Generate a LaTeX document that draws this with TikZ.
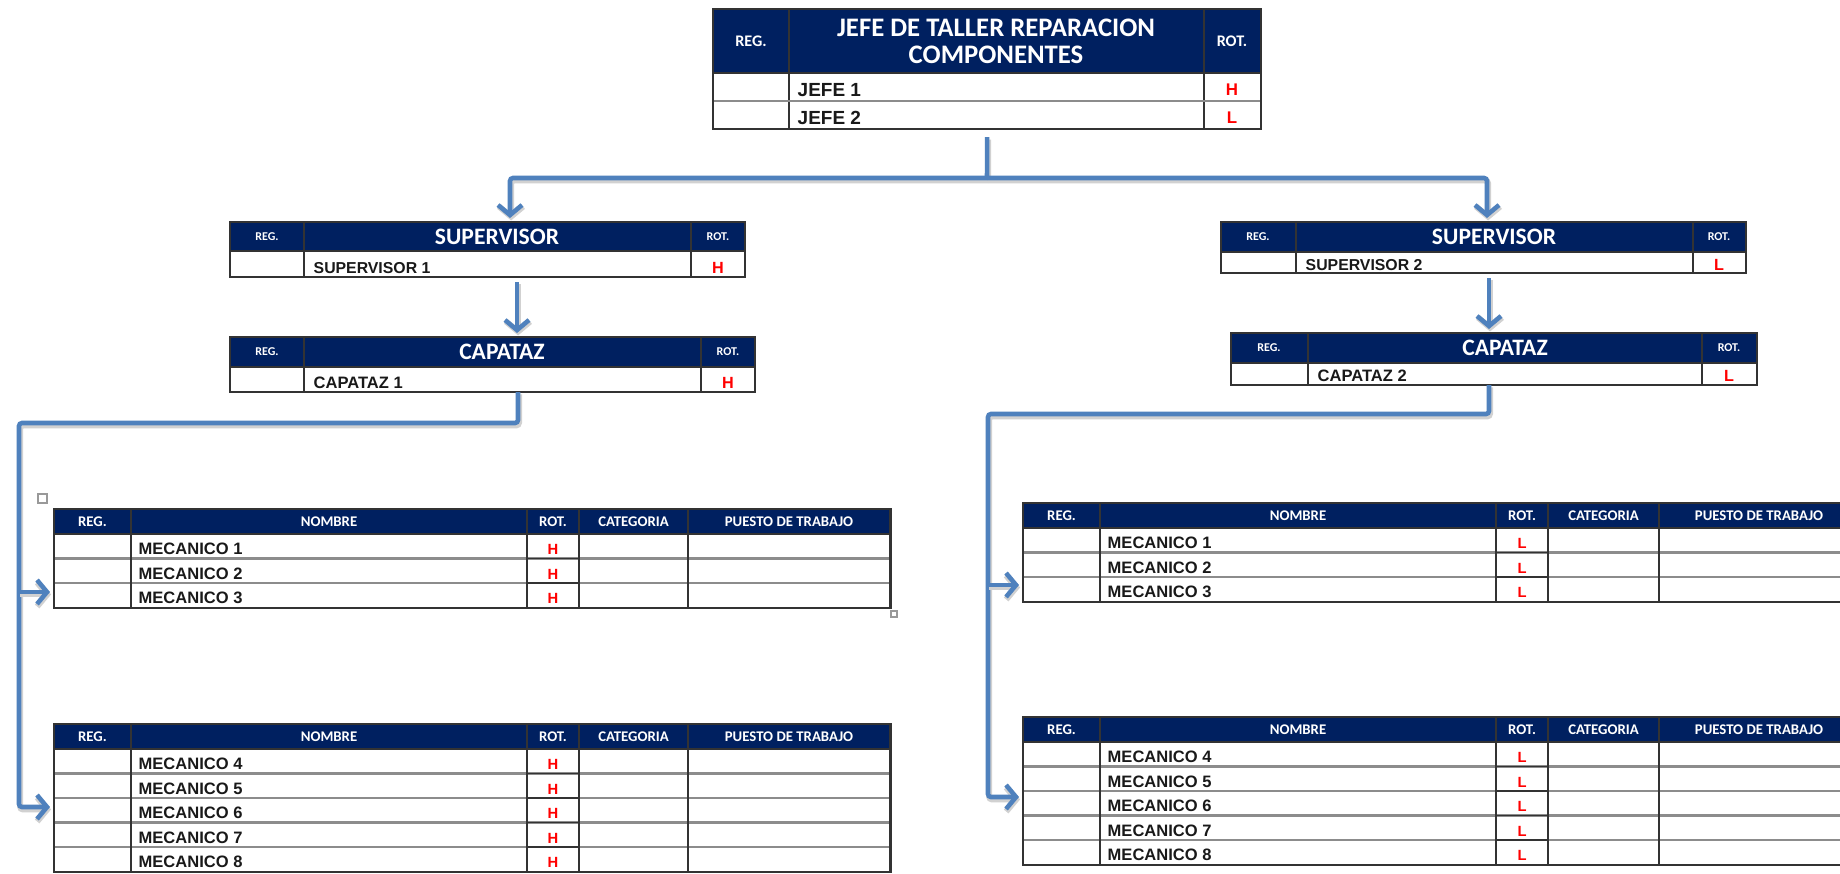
\documentclass[tikz,border=0pt]{standalone}
\usepackage{fontspec}
\setmainfont{Liberation Sans}
\newfontfamily\calfont{Carlito}
\usetikzlibrary{arrows.meta}

\definecolor{navy}{HTML}{002060}
\definecolor{linkblue}{HTML}{4F81BD}

\tikzset{
  tbl/.style={draw=black!80, line width=0.6pt, anchor=north west, inner sep=0, outer sep=0},
  grid/.style={draw=black!80, line width=0.5pt},
  rowline/.style={draw=black!45, line width=0.6pt},
  htext/.style={text=white, inner sep=0, font=\calfont\bfseries\fontsize{#1}{#1}\selectfont},
  htext/.default=4.2,
  dat/.style={anchor=base west, inner sep=0, text=black!90, font=\bfseries\fontsize{#1}{#1}\selectfont},
  dat/.default=4.7,
  rotmark/.style={anchor=base, inner sep=0, text=red, font=\bfseries\fontsize{#1}{#1}\selectfont},
  rotmark/.default=4.2,
  link/.style={draw=linkblue, line width=1.3pt, rounded corners=0.03cm,
    preaction={draw=black!18, line width=1.7pt, transform canvas={xshift=0.3pt, yshift=-0.7pt}}},
  arrowlink/.style={link, -{Straight Barb[length=0.1cm, width=0.24cm]}, shorten >=0.04cm},
}

\begin{document}
\begin{tikzpicture}[x=0.01cm, y=-0.01cm]
  \fill[white] (0,0) rectangle (1840,873);
  \useasboundingbox (0,0) rectangle (1840,873);

  % jefe de taller
  \fill[navy] (713,9) rectangle (1261,73);
  \draw[grid] (789,9) -- (789,129) (1204,9) -- (1204,129) (713,73) -- (1261,73);
  \draw[rowline] (713,101) -- (1261,101);
  \node[tbl, minimum width=5.48cm, minimum height=1.2cm] (jefe) at (713,9) {};
  \node[htext=4.6] (jefe-reg) at (751,41) {REG.};
  \node[htext, align=center, font=\calfont\bfseries\fontsize{7.6}{7.7}\selectfont] (jefe-t) at (996,41) {JEFE DE TALLER REPARACION\\COMPONENTES};
  \node[htext=4.6] (jefe-rot) at (1232,41) {ROT.};
  \node[dat=5.4] (jefe-1) at (797,97) {JEFE 1};
  \node[dat=5.4] (jefe-2) at (797,125) {JEFE 2};
  \node[rotmark=4.8] (jefe-r1) at (1232,96) {H};
  \node[rotmark=4.8] (jefe-r2) at (1232,124) {L};

  % supervisor 1
  \fill[navy] (230,222) rectangle (745,251);
  \draw[grid] (304,222) -- (304,277) (691,222) -- (691,277) (230,251) -- (745,251);
  \node[tbl, minimum width=5.15cm, minimum height=0.55cm] (sup1) at (230,222) {};
  \node[htext=3.4] (sup1-reg) at (267,237) {REG.};
  \node[htext=6.7] (sup1-t) at (497,237) {SUPERVISOR};
  \node[htext=3.4] (sup1-rot) at (718,237) {ROT.};
  \node[dat=4.5] (sup1-n) at (313,273) {SUPERVISOR 1};
  \node[rotmark=4.6] (sup1-r) at (718,273) {H};

  % capataz 1
  \fill[navy] (230,337) rectangle (755,367);
  \draw[grid] (304,337) -- (304,392) (701,337) -- (701,392) (230,367) -- (755,367);
  \node[tbl, minimum width=5.25cm, minimum height=0.55cm] (cap1) at (230,337) {};
  \node[htext=3.4] (cap1-reg) at (267,352) {REG.};
  \node[htext=6.7] (cap1-t) at (502,352) {CAPATAZ};
  \node[htext=3.4] (cap1-rot) at (728,352) {ROT.};
  \node[dat=4.7] (cap1-n) at (313,388) {CAPATAZ 1};
  \node[rotmark=4.6] (cap1-r) at (728,388) {H};

  % supervisor 2
  \fill[navy] (1221,222) rectangle (1746,252);
  \draw[grid] (1296,222) -- (1296,273) (1693,222) -- (1693,273) (1221,252) -- (1746,252);
  \node[tbl, minimum width=5.25cm, minimum height=0.51cm] (sup2) at (1221,222) {};
  \node[htext=3.4] (sup2-reg) at (1258,237) {REG.};
  \node[htext=6.7] (sup2-t) at (1494,237) {SUPERVISOR};
  \node[htext=3.4] (sup2-rot) at (1719,237) {ROT.};
  \node[dat=4.5] (sup2-n) at (1305,270) {SUPERVISOR 2};
  \node[rotmark=4.6] (sup2-r) at (1719,270) {L};

  % capataz 2
  \fill[navy] (1231,333) rectangle (1757,363);
  \draw[grid] (1308,333) -- (1308,385) (1702,333) -- (1702,385) (1231,363) -- (1757,363);
  \node[tbl, minimum width=5.26cm, minimum height=0.52cm] (cap2) at (1231,333) {};
  \node[htext=3.4] (cap2-reg) at (1269,348) {REG.};
  \node[htext=6.7] (cap2-t) at (1505,348) {CAPATAZ};
  \node[htext=3.4] (cap2-rot) at (1729,348) {ROT.};
  \node[dat=4.7] (cap2-n) at (1317,381) {CAPATAZ 2};
  \node[rotmark=4.6] (cap2-r) at (1729,381) {L};

  % mecanicos 1-3 (H)
  \begin{scope}[shift={(54,509)}]
    \fill[navy] (0,0) rectangle (836,25);
    \foreach \i in {1,2}
      \draw[rowline] (0,25+24.5*\i) -- (836,25+24.5*\i);
    \foreach \cx in {77,473,525,634}
      \draw[grid] (\cx,0) -- (\cx,98.5);
    \draw[grid] (0,25) -- (836,25) (473,49.5) -- (525,49.5) (473,74) -- (525,74);
    \node[tbl, minimum width=8.36cm, minimum height=0.985cm] (mecL1) at (0,0) {};
    \foreach \cx/\txt [count=\k] in {38.5/REG., 275/NOMBRE, 499/ROT., 579.5/CATEGORIA, 735/PUESTO DE TRABAJO}
      \node[htext] (mecL1-h\k) at (\cx,12.5) {\txt};
    \foreach \n [count=\i] in {1,2,3} {
      \node[dat] (mecL1-\n) at (84,21+24.5*\i) {MECANICO \n};
      \node[rotmark] (mecL1-r\n) at (499,21+24.5*\i) {H};
    }
    % table handles
    \draw[black!40, line width=0.3pt] (-16,-15) rectangle (-7,-6);
    \draw[black!40, line width=0.3pt] (837,102) rectangle (843,108);
  \end{scope}

  % mecanicos 4-8 (H)
  \begin{scope}[shift={(54,724)}]
    \fill[navy] (0,0) rectangle (836,25);
    \foreach \i in {1,...,4}
      \draw[rowline] (0,25+24.5*\i) -- (836,25+24.5*\i);
    \foreach \cx in {77,473,525,634}
      \draw[grid] (\cx,0) -- (\cx,147.5);
    \draw[grid] (0,25) -- (836,25);
    \foreach \i in {1,...,4}
      \draw[grid] (473,25+24.5*\i) -- (525,25+24.5*\i);
    \node[tbl, minimum width=8.36cm, minimum height=1.475cm] (mecL2) at (0,0) {};
    \foreach \cx/\txt [count=\k] in {38.5/REG., 275/NOMBRE, 499/ROT., 579.5/CATEGORIA, 735/PUESTO DE TRABAJO}
      \node[htext] (mecL2-h\k) at (\cx,12.5) {\txt};
    \foreach \n [count=\i] in {4,...,8} {
      \node[dat] (mecL2-\n) at (84,21+24.5*\i) {MECANICO \n};
      \node[rotmark] (mecL2-r\n) at (499,21+24.5*\i) {H};
    }
  \end{scope}

  % mecanicos 1-3 (L)
  \begin{scope}[shift={(1023,503)}]
    \fill[navy] (0,0) rectangle (836,25);
    \foreach \i in {1,2}
      \draw[rowline] (0,25+24.5*\i) -- (836,25+24.5*\i);
    \foreach \cx in {77,473,525,636}
      \draw[grid] (\cx,0) -- (\cx,98.5);
    \draw[grid] (0,25) -- (836,25) (473,49.5) -- (525,49.5) (473,74) -- (525,74);
    \node[tbl, minimum width=8.36cm, minimum height=0.985cm] (mecR1) at (0,0) {};
    \foreach \cx/\txt [count=\k] in {38.5/REG., 275/NOMBRE, 499/ROT., 580.5/CATEGORIA, 736/PUESTO DE TRABAJO}
      \node[htext] (mecR1-h\k) at (\cx,12.5) {\txt};
    \foreach \n [count=\i] in {1,2,3} {
      \node[dat] (mecR1-\n) at (84,21+24.5*\i) {MECANICO \n};
      \node[rotmark] (mecR1-r\n) at (499,21+24.5*\i) {L};
    }
  \end{scope}

  % mecanicos 4-8 (L)
  \begin{scope}[shift={(1023,717)}]
    \fill[navy] (0,0) rectangle (836,25);
    \foreach \i in {1,...,4}
      \draw[rowline] (0,25+24.5*\i) -- (836,25+24.5*\i);
    \foreach \cx in {77,473,525,636}
      \draw[grid] (\cx,0) -- (\cx,147.5);
    \draw[grid] (0,25) -- (836,25);
    \foreach \i in {1,...,4}
      \draw[grid] (473,25+24.5*\i) -- (525,25+24.5*\i);
    \node[tbl, minimum width=8.36cm, minimum height=1.475cm] (mecR2) at (0,0) {};
    \foreach \cx/\txt [count=\k] in {38.5/REG., 275/NOMBRE, 499/ROT., 580.5/CATEGORIA, 736/PUESTO DE TRABAJO}
      \node[htext] (mecR2-h\k) at (\cx,12.5) {\txt};
    \foreach \n [count=\i] in {4,...,8} {
      \node[dat] (mecR2-\n) at (84,21+24.5*\i) {MECANICO \n};
      \node[rotmark] (mecR2-r\n) at (499,21+24.5*\i) {L};
    }
  \end{scope}

  % connectors
  \coordinate (jbus) at (987,178);
  \coordinate (jl) at (510,178);
  \coordinate (jr) at (1487,178);
  \draw[link] ([yshift=-0.08cm]jefe.south) -- (jbus);
  \draw[arrowlink] (jbus) -- (jl) -- (jl |- sup1.north);
  \draw[arrowlink] (jbus) -- (jr) -- (jr |- sup2.north);

  \coordinate (s1) at (517,0);
  \draw[arrowlink, shorten <=0.05cm] (s1 |- sup1.south) -- (s1 |- cap1.north);
  \coordinate (c1) at (518,423);
  \coordinate (c1l) at (19,423);
  \coordinate (b1) at (19,592);
  \coordinate (b2) at (19,807);
  \draw[arrowlink] (c1 |- cap1.south) -- (c1) -- (c1l) -- (b2) -- (b2 -| mecL2.west);
  \draw[arrowlink] (b1) -- (b1 -| mecL1.west);

  \coordinate (s2) at (1489,0);
  \draw[arrowlink, shorten <=0.05cm] (s2 |- sup2.south) -- (s2 |- cap2.north);
  \coordinate (c2) at (1489,414);
  \coordinate (c2l) at (988,414);
  \coordinate (b3) at (988,585);
  \coordinate (b4) at (988,797);
  \draw[arrowlink] (c2 |- cap2.south) -- (c2) -- (c2l) -- (b4) -- (b4 -| mecR2.west);
  \draw[arrowlink] (b3) -- (b3 -| mecR1.west);
\end{tikzpicture}
\end{document}
